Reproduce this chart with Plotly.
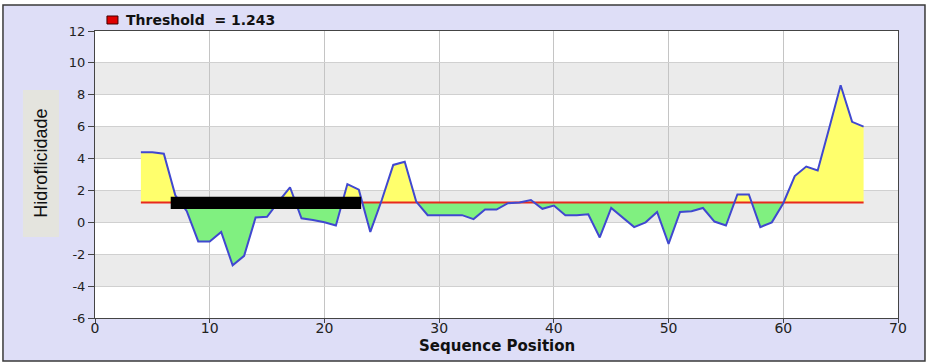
import plotly.graph_objects as go

# ---- data ----
positions = list(range(4, 68))
hydro = [4.4, 4.4, 4.3, 1.7, 0.7, -1.2, -1.2, -0.6, -2.7, -2.1,
         0.3, 0.35, 1.3, 2.2, 0.25, 0.15, 0.0, -0.2, 2.4, 2.05,
         -0.6, 1.4, 3.6, 3.8, 1.3, 0.45, 0.45, 0.45, 0.45, 0.2,
         0.8, 0.8, 1.2, 1.25, 1.4, 0.85, 1.05, 0.45, 0.45, 0.5,
         -0.95, 0.9, 0.3, -0.3, 0.0, 0.65, -1.35, 0.65, 0.7, 0.9,
         0.05, -0.2, 1.75, 1.75, -0.3, 0.0, 1.2, 2.9, 3.5, 3.25,
         5.9, 8.6, 6.3, 6.0]
threshold = 1.243
x_ticks = [0, 10, 20, 30, 40, 50, 60, 70]
y_ticks = [-6, -4, -2, 0, 2, 4, 6, 8, 10, 12]
y_tick_labels = [str(v) for v in y_ticks]
shaded_bands = [(8, 10), (4, 6), (0, 2), (-4, -2)]
redaction = (6.6, 23.2, 0.84, 1.6)  # x0, x1, y0, y1 of black bar

# ---- split curve at threshold crossings for two-colour fill ----
fx, fy = [positions[0]], [hydro[0]]
for i in range(1, len(positions)):
    y0, y1 = hydro[i - 1], hydro[i]
    if (y0 - threshold) * (y1 - threshold) < 0:
        xc = positions[i - 1] + (threshold - y0) / (y1 - y0) * (positions[i] - positions[i - 1])
        fx.append(xc)
        fy.append(threshold)
    fx.append(positions[i])
    fy.append(hydro[i])
upper = [max(v, threshold) for v in fy]
lower = [min(v, threshold) for v in fy]
base = [threshold] * len(fx)

fig = go.Figure()
fig.add_trace(go.Scatter(x=fx, y=base, mode="lines", line=dict(width=0),
                         showlegend=False, hoverinfo="skip"))
fig.add_trace(go.Scatter(x=fx, y=upper, mode="lines", line=dict(width=0),
                         fill="tonexty", fillcolor="#FFFF6C",
                         showlegend=False, hoverinfo="skip"))
fig.add_trace(go.Scatter(x=fx, y=base, mode="lines", line=dict(width=0),
                         showlegend=False, hoverinfo="skip"))
fig.add_trace(go.Scatter(x=fx, y=lower, mode="lines", line=dict(width=0),
                         fill="tonexty", fillcolor="#80F080",
                         showlegend=False, hoverinfo="skip"))
fig.add_trace(go.Scatter(x=[positions[0], positions[-1]], y=[threshold, threshold],
                         mode="lines", line=dict(color="#E8281E", width=2),
                         showlegend=False, name="Threshold"))
fig.add_trace(go.Scatter(x=positions, y=hydro, mode="lines",
                         line=dict(color="#4048D0", width=2),
                         showlegend=False, name="Hidroflicidade"))

shapes = []
# outer panel
shapes.append(dict(type="rect", xref="paper", yref="paper",
                   x0=-0.1146, x1=1.0336, y0=-0.1498, y1=1.0906,
                   fillcolor="#DEDEF7", line=dict(color="#3A3A3A", width=1.5),
                   layer="below"))
# plot area white
shapes.append(dict(type="rect", xref="paper", yref="paper", x0=0, x1=1, y0=0, y1=1,
                   fillcolor="white", line=dict(width=0), layer="below"))
for b0, b1 in shaded_bands:
    shapes.append(dict(type="rect", xref="paper", yref="y", x0=0, x1=1, y0=b0, y1=b1,
                       fillcolor="#EBEBEB", line=dict(width=0), layer="below"))
# y-title box
shapes.append(dict(type="rect", xref="paper", yref="paper",
                   x0=-0.0897, x1=-0.0448, y0=0.282, y1=0.794,
                   fillcolor="#E4E4DE", line=dict(width=0), layer="below"))
# legend swatch
shapes.append(dict(type="rect", xref="paper", yref="paper",
                   x0=0.0149, x1=0.0286, y0=1.0244, y1=1.0523,
                   fillcolor="#E00000", line=dict(color="#400000", width=1)))
# black redaction bar
shapes.append(dict(type="rect", xref="x", yref="y",
                   x0=redaction[0], x1=redaction[1], y0=redaction[2], y1=redaction[3],
                   fillcolor="black", line=dict(width=0)))

annotations = [
    dict(text="Threshold  = 1.243", xref="paper", yref="paper", x=0.0361, y=1.0383,
         xanchor="left", yanchor="middle", showarrow=False,
         font=dict(family="DejaVu Sans", size=14, color="#111111", weight="bold")),
    dict(text="Hidroflicidade", xref="paper", yref="paper", x=-0.0672, y=0.538,
         xanchor="center", yanchor="middle", showarrow=False, textangle=-90,
         font=dict(family="Liberation Sans", size=18, color="#111111")),
    dict(text="Sequence Position", xref="paper", yref="paper", x=0.5, y=-0.0976,
         xanchor="center", yanchor="middle", showarrow=False,
         font=dict(family="DejaVu Sans", size=15, color="#111111", weight="bold")),
]

fig.update_layout(
    width=928, height=363,
    margin=dict(l=95, r=30, t=31, b=45, autoexpand=False),
    paper_bgcolor="white", plot_bgcolor="rgba(0,0,0,0)",
    shapes=shapes, annotations=annotations,
    showlegend=False,
)
fig.update_xaxes(range=[0, 70], tickvals=x_ticks, ticks="outside", ticklen=4,
                 ticklabelstandoff=-7,
                 tickcolor="#444444", showline=True, linecolor="#444444", linewidth=1,
                 mirror=True, showgrid=True, gridcolor="#C4C4C4", gridwidth=1,
                 zeroline=False, automargin=False,
                 tickfont=dict(family="DejaVu Sans", size=14, color="#222222"))
fig.update_yaxes(range=[-6, 12], tickvals=y_ticks, ticktext=y_tick_labels,
                 ticks="outside", ticklen=6,
                 tickcolor="#444444", showline=True, linecolor="#444444", linewidth=1,
                 mirror=True, showgrid=True, gridcolor="#D0D0D0", gridwidth=1,
                 zeroline=False, automargin=False,
                 tickfont=dict(family="DejaVu Sans", size=13, color="#222222"))

fig.write_html("out.html")
